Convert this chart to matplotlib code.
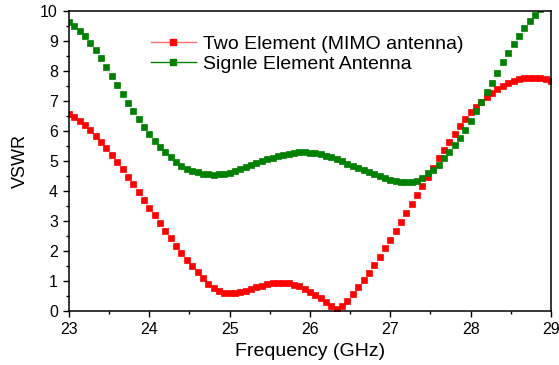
import numpy as np
import matplotlib
matplotlib.use("Agg")
import matplotlib.pyplot as plt
from matplotlib.lines import Line2D
from matplotlib.ticker import MultipleLocator

plt.rcParams['font.family'] = ['Liberation Sans', 'DejaVu Sans']

# frequency grid: 23 to 29 GHz, 91 samples
freq = [23 + i / 15 for i in range(91)]

two_element = [
    6.56, 6.48, 6.34, 6.20, 6.03, 5.84, 5.64, 5.44, 5.21, 4.98,
    4.72, 4.48, 4.22, 3.97, 3.70, 3.44, 3.19, 2.92, 2.68, 2.43,
    2.18, 1.94, 1.71, 1.50, 1.30, 1.10, 0.91, 0.76, 0.66, 0.60,
    0.59, 0.60, 0.63, 0.68, 0.74, 0.80, 0.85, 0.89, 0.92, 0.94,
    0.94, 0.92, 0.88, 0.82, 0.74, 0.65, 0.54, 0.42, 0.30, 0.17,
    0.07, 0.17, 0.34, 0.57, 0.79, 1.03, 1.28, 1.53, 1.81, 2.09,
    2.37, 2.67, 2.96, 3.26, 3.57, 3.87, 4.17, 4.47, 4.78, 5.09,
    5.36, 5.64, 5.91, 6.18, 6.40, 6.62, 6.81, 6.98, 7.14, 7.28,
    7.40, 7.51, 7.60, 7.67, 7.72, 7.76, 7.78, 7.78, 7.76, 7.73,
    7.68,
]

single_element = [
    9.62, 9.51, 9.34, 9.16, 8.94, 8.69, 8.42, 8.12, 7.82, 7.52,
    7.22, 6.94, 6.67, 6.40, 6.14, 5.90, 5.67, 5.48, 5.30, 5.12,
    4.98, 4.85, 4.74, 4.67, 4.62, 4.58, 4.56, 4.55, 4.56, 4.58,
    4.61, 4.66, 4.72, 4.79, 4.86, 4.93, 5.00, 5.06, 5.11, 5.16,
    5.20, 5.24, 5.27, 5.29, 5.29, 5.28, 5.26, 5.22, 5.18, 5.13,
    5.07, 4.99, 4.91, 4.85, 4.78, 4.71, 4.64, 4.57, 4.50, 4.44,
    4.38, 4.34, 4.31, 4.30, 4.31, 4.35, 4.42, 4.59, 4.70, 4.87,
    5.09, 5.31, 5.53, 5.76, 6.03, 6.33, 6.67, 6.98, 7.29, 7.59,
    7.92, 8.29, 8.59, 8.89, 9.18, 9.42, 9.67, 9.87, 10.05, 10.25,
    10.45,
]

labels = ['Two Element (MIMO antenna)', 'Signle Element Antenna']
red = '#ff0000'
green = '#008000'

fig = plt.figure(figsize=(5.59, 3.65), dpi=100)
ax = fig.add_axes([0.1234, 0.1479, 0.8623, 0.822])

ax.plot(freq, two_element, ls='none', marker='s', ms=4.6, color=red, mew=0.5)
ax.plot(freq, single_element, ls='none', marker='s', ms=4.6, color=green, mew=0.5)

ax.set_xlim(23, 29)
ax.set_ylim(0, 10)
ax.xaxis.set_major_locator(MultipleLocator(1))
ax.xaxis.set_minor_locator(MultipleLocator(0.5))
ax.yaxis.set_major_locator(MultipleLocator(1))
ax.yaxis.set_minor_locator(MultipleLocator(0.5))
ax.tick_params(which='major', direction='out', length=4, width=1, labelsize=11.5, pad=4)
ax.tick_params(which='minor', direction='out', length=2.5, width=1)
for s in ax.spines.values():
    s.set_linewidth(1.1)

ax.set_xlabel('Frequency (GHz)', fontsize=14, labelpad=4)
ax.set_ylabel('VSWR', fontsize=13, labelpad=8)

handles = [
    Line2D([], [], color='#ff7070', lw=1, marker='s', ms=5, mfc=red, mec=red),
    Line2D([], [], color=green, lw=1, marker='s', ms=5, mfc=green, mec=green),
]
ax.legend(handles, labels, loc='upper left', bbox_to_anchor=(151 / 559, 1 - 35 / 365),
          bbox_transform=fig.transFigure, frameon=False, fontsize=14,
          handlelength=2.3, handletextpad=0.35, labelspacing=0.12, numpoints=1,
          borderaxespad=0, borderpad=0)

fig.savefig('out.png', dpi=100)
